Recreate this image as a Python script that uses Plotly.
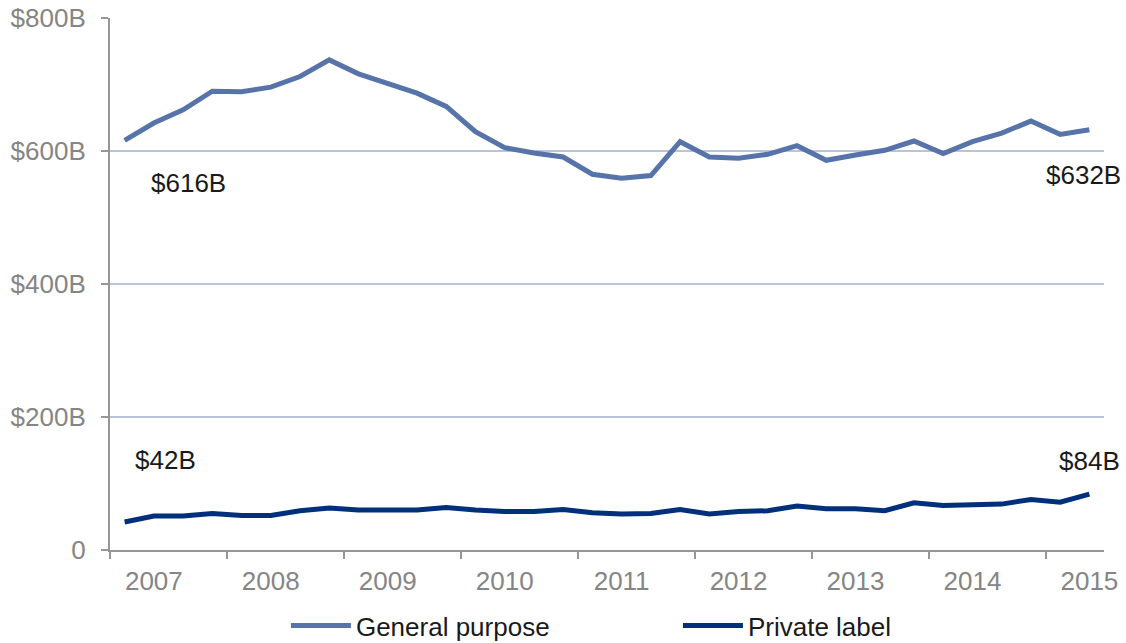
import plotly.graph_objects as go

quarters = list(range(34))  # 2006 Q4 .. 2015 Q1
year_labels = ["2007", "2008", "2009", "2010", "2011", "2012", "2013", "2014", "2015"]
year_label_pos = [1, 5, 9, 13, 17, 21, 25, 29, 33]
year_tick_bounds = [-0.5, 3.5, 7.5, 11.5, 15.5, 19.5, 23.5, 27.5, 31.5]

general_purpose = [616, 642, 662, 690, 689, 696, 712, 737, 716, 702, 687, 667,
                   629, 605, 597, 591, 565, 559, 563, 614, 591, 589, 595, 608,
                   586, 594, 601, 615, 596, 614, 627, 645, 625, 632]
private_label = [42, 51, 51, 55, 52, 52, 59, 63, 60, 60, 60, 64,
                 60, 58, 58, 61, 56, 54, 55, 61, 54, 58, 59, 66,
                 62, 62, 59, 71, 67, 68, 69, 76, 72, 84]

y_tickvals = [0, 200, 400, 600, 800]
y_ticktext = ["0", "$200B", "$400B", "$600B", "$800B"]

FONT = "Liberation Sans, Arial, sans-serif"
GRID = "#b9c4dc"
AXIS = "#969696"
LABEL = "#858585"
FS = 26

fig = go.Figure()
fig.add_trace(go.Scatter(x=quarters, y=general_purpose, mode="lines",
                         name="General purpose",
                         line=dict(color="#5673aa", width=5)))
fig.add_trace(go.Scatter(x=quarters, y=private_label, mode="lines",
                         name="Private label",
                         line=dict(color="#002f7b", width=5)))

annots = [
    dict(x=2.2, y=552, text="$616B"),
    dict(x=32.8, y=564, text="$632B"),
    dict(x=1.4, y=135, text="$42B"),
    dict(x=33.0, y=134, text="$84B"),
]
for a in annots:
    fig.add_annotation(x=a["x"], y=a["y"], text=a["text"], showarrow=False,
                       xref="x", yref="y",
                       font=dict(family=FONT, size=FS, color="#1a1a1a"))

fig.update_layout(
    width=1126, height=643,
    margin=dict(l=110, r=22, t=18, b=93, autoexpand=False),
    paper_bgcolor="white", plot_bgcolor="white",
    font=dict(family=FONT, size=FS, color=LABEL),
    showlegend=True,
    legend=dict(orientation="h", x=0.177, xanchor="left",
                y=-0.0977, yanchor="top",
                font=dict(family=FONT, size=FS, color="#1a1a1a"),
                entrywidth=317, entrywidthmode="pixels",
                itemwidth=60, tracegroupgap=0),
    xaxis=dict(range=[-0.5, 33.5], tickmode="array", tickvals=year_label_pos,
               ticktext=year_labels, ticks="", showgrid=False, zeroline=False,
               showline=True, linecolor=AXIS, linewidth=2, automargin=False,
               tickfont=dict(family=FONT, size=FS, color=LABEL),
               ticklabelstandoff=7, ticklabeloverflow="allow",
               minor=dict(tickmode="array", tickvals=year_tick_bounds, ticks="outside",
                          ticklen=7, tickcolor=AXIS, tickwidth=2, showgrid=False)),
    yaxis=dict(range=[0, 800], tickmode="array", tickvals=y_tickvals,
               ticktext=y_ticktext, ticks="outside", ticklen=7, tickcolor=AXIS,
               tickwidth=2, showgrid=True, gridcolor=GRID, gridwidth=2,
               zeroline=False, showline=True, linecolor=AXIS, linewidth=2,
               automargin=False, ticklabeloverflow="allow",
               tickfont=dict(family=FONT, size=FS, color=LABEL),
               ticklabelstandoff=10),
)

fig.write_html("out.html", config={"displayModeBar": False},
               post_script="document.body.style.margin='0px';")
